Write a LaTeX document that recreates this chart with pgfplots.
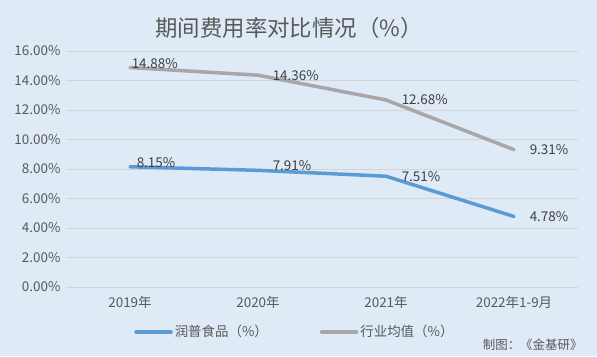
\documentclass[border=0pt]{standalone}
\usepackage{pgfplots}
\pgfplotsset{compat=1.18}
\usepackage{pgfplotstable}
\usepackage{fontspec}
\setmainfont{Noto Sans CJK SC}
\definecolor{bg}{HTML}{DEEAF6}
\definecolor{gridc}{HTML}{D4D4D4}
\definecolor{txt}{HTML}{595959}
\definecolor{lbl}{HTML}{404040}
\definecolor{sblue}{HTML}{5B9BD5}
\definecolor{sgray}{HTML}{A8A6A6}
\pgfplotstableread{
x y dx dy
0 8.15 5 4
1 7.91 13 5
2 7.51 14 0
3 4.78 14 0
}\runpu
\pgfplotstableread{
x y dx dy
0 14.88 0 4
1 14.36 13 0
2 12.68 14 0
3 9.31 14 0
}\hangye
\begin{document}
\begin{tikzpicture}[x=1bp,y=1bp]
\useasboundingbox (0,0) rectangle (597,356);
\fill[bg] (0,0) rectangle (597,356);
\node[text=txt, font=\fontsize{22.5}{24}\selectfont] at (289,328) {期间费用率对比情况（\%）};
\node[text=txt, font=\fontsize{12.5}{14}\selectfont, anchor=east] at (586,11) {制图：《金基研》};
\begin{axis}[
  at={(66bp,69bp)}, anchor=south west,
  scale only axis, width=512bp, height=236bp,
  xmin=-0.5, xmax=3.5, ymin=0, ymax=16,
  xtick={0,1,2,3},
  xticklabels={2019年,2020年,2021年,2022年1-9月},
  ytick={0,2,...,16},
  yticklabel={\pgfmathprintnumber[fixed,fixed zerofill,precision=2]{\tick}\%},
  /pgf/number format/assume math mode=true,
  ymajorgrids, xmajorgrids=false, grid style={draw=gridc, line width=0.8bp},
  axis line style={draw=none},
  major tick length=0pt,
  tick label style={text=txt, font=\fontsize{13.5}{15}\selectfont},
  xticklabel style={yshift=-6bp},
  yticklabel style={xshift=-2bp},
  clip=false,
  legend columns=2,
  legend style={at={(0.447,-0.19)}, anchor=center, draw=none, fill=none,
    font=\fontsize{13.5}{15}\selectfont, text=txt,
    /tikz/every even column/.append style={column sep=50bp}},
  legend image code/.code={\draw[#1, line width=3.5bp] (0bp,0bp) -- (35bp,0bp);},
  nodes near coords={\pgfmathprintnumber[fixed,fixed zerofill,precision=2]{\pgfplotspointmeta}\%},
  every node near coord/.append style={anchor=west, text=lbl, font=\fontsize{13.5}{15}\selectfont, xshift=\dx bp, yshift=\dy bp, inner sep=0pt},
  visualization depends on={\thisrow{dx} \as \dx},
  visualization depends on={\thisrow{dy} \as \dy},
]
\addplot[sblue, line width=3.5bp, line join=round, line cap=round, point meta=explicit] table[x=x, y=y, meta=y] {\runpu};
\addlegendentry{润普食品（\%）}
\addplot[sgray, line width=3.5bp, line join=round, line cap=round, point meta=explicit] table[x=x, y=y, meta=y] {\hangye};
\addlegendentry{行业均值（\%）}
\end{axis}
\end{tikzpicture}
\end{document}
